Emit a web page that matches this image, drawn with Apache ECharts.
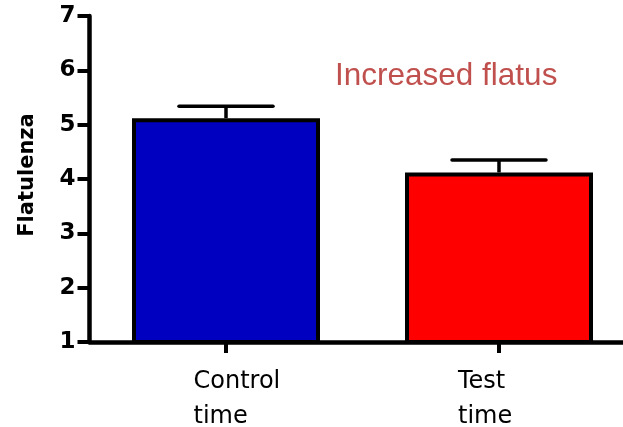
<!DOCTYPE html>
<html>
<head>
<meta charset="utf-8">
<script src="https://cdn.jsdelivr.net/npm/echarts@6/dist/echarts.min.js"></script>
<style>html,body{margin:0;padding:0;background:#fff}#c{width:623px;height:427px}</style>
</head>
<body>
<div id="c"></div>
<script>
const categories = ['Control\ntime', 'Test\ntime'];
const means = [5.12, 4.12];
const errorUpper = [5.34, 4.35];
const barColors = ['#0000c0', '#ff0000'];
const yTicks = [1, 2, 3, 4, 5, 6, 7];
const yTitle = 'Flatulenza';
const annotation = 'Increased flatus';

const chart = echarts.init(document.getElementById('c'), null, {renderer: 'canvas'});
const labelKeys = ['c', 't'];
chart.setOption({
  animation: false,
  backgroundColor: '#fff',
  grid: {left: 89.5, width: 546, top: 16, bottom: 85, containLabel: false, outerBoundsMode: 'none'},
  xAxis: {
    type: 'category',
    data: categories,
    axisLine: {show: true, lineStyle: {color: '#000', width: 4.5}},
    axisTick: {show: true, alignWithLabel: true, interval: 0, length: 11, lineStyle: {color: '#000', width: 4}},
    axisLabel: {
      interval: 0,
      margin: 22,
      align: 'center',
      formatter: function (v, i) {
        const k = labelKeys[i];
        return v.split('\n').map(s => '{' + k + '|' + s + '}').join('\n');
      },
      rich: {
        c: {width: 65, align: 'left', fontFamily: 'DejaVu Sans', fontSize: 24, lineHeight: 35, color: '#000'},
        t: {width: 82, align: 'left', fontFamily: 'DejaVu Sans', fontSize: 24, lineHeight: 35, color: '#000'}
      }
    }
  },
  yAxis: {
    type: 'value',
    min: yTicks[0],
    max: yTicks[yTicks.length - 1],
    interval: 1,
    name: yTitle,
    nameLocation: 'middle',
    nameRotate: 90,
    nameGap: 51,
    nameTextStyle: {fontFamily: 'DejaVu Sans', fontWeight: 'bold', fontSize: 21, color: '#000', padding: [0, 0, 0, 8]},
    splitLine: {show: false},
    axisLine: {show: true, lineStyle: {color: '#000', width: 4.5}},
    axisTick: {show: true, length: 12, lineStyle: {color: '#000', width: 4}},
    axisLabel: {margin: 14, fontFamily: 'DejaVu Sans', fontWeight: 'bold', fontSize: 23, color: '#000'}
  },
  series: [
    {
      type: 'bar',
      barWidth: 188,
      clip: true,
      data: means.map((v, i) => ({value: v, itemStyle: {color: barColors[i]}})),
      itemStyle: {borderColor: '#000', borderWidth: 4},
      z: 2
    },
    {
      type: 'custom',
      z: 1,
      data: means.map((v, i) => [i, v, errorUpper[i]]),
      renderItem: function (params, api) {
        const top = api.coord([api.value(0), api.value(2)]);
        const base = api.coord([api.value(0), api.value(1)]);
        const half = 47;
        return {
          type: 'group',
          children: [
            {type: 'line', shape: {x1: top[0], y1: top[1], x2: base[0], y2: base[1]}, style: {stroke: '#000', lineWidth: 3.5}},
            {type: 'line', shape: {x1: top[0] - half, y1: top[1], x2: top[0] + half, y2: top[1]}, style: {stroke: '#000', lineWidth: 3.5, lineCap: 'round'}}
          ]
        };
      }
    }
  ],
  graphic: [{
    type: 'text',
    left: 335,
    top: 60,
    style: {text: annotation, fontFamily: 'Arial, Liberation Sans', fontSize: 31.5, fill: '#c0504d'}
  }]
});
</script>
</body>
</html>
